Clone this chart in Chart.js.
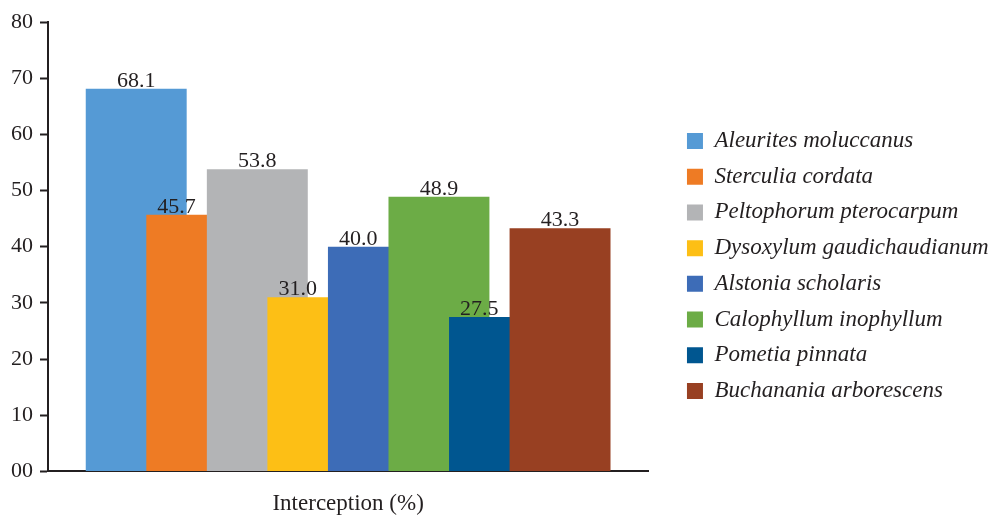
<!DOCTYPE html>
<html>
<head>
<meta charset="utf-8">
<title>Interception (%)</title>
<script src="https://cdn.jsdelivr.net/npm/chart.js@4.4.1/dist/chart.umd.min.js"></script>
<style>
  html, body { margin: 0; padding: 0; background: #fff; }
  #wrap { width: 992px; height: 516px; position: relative; }
</style>
</head>
<body>
<div id="wrap"><canvas id="interceptionChart"></canvas></div>
<script>
// species shown in the legend, left to right in the plot
var species = [
  'Aleurites moluccanus',
  'Sterculia cordata',
  'Peltophorum pterocarpum',
  'Dysoxylum gaudichaudianum',
  'Alstonia scholaris',
  'Calophyllum inophyllum',
  'Pometia pinnata',
  'Buchanania arborescens'
];
var interception = [68.1, 45.7, 53.8, 31.0, 40.0, 48.9, 27.5, 43.3];
var barColors = ['#559AD5', '#EE7B24', '#B3B4B6', '#FDBF15', '#3D6CB7', '#6CAC46', '#005690', '#984022'];
var yTickLabels = ['00', '10', '20', '30', '40', '50', '60', '70', '80'];
var xTitle = 'Interception (%)';

var ink = '#231F20';
var serif = "'Liberation Serif', 'Times New Roman', serif";

// value written above each bar; a bar partly hidden by a taller neighbour gets
// its label over the part that is still visible
var valueLabels = {
  id: 'valueLabels',
  afterDatasetsDraw: function(chart) {
    var ctx = chart.ctx;
    ctx.save();
    ctx.font = '22px ' + serif;
    ctx.fillStyle = ink;
    ctx.textAlign = 'center';
    ctx.textBaseline = 'alphabetic';
    for (var i = 0; i < interception.length; i++) {
      var bar = chart.getDatasetMeta(i).data[0];
      var x = bar.x;
      if (i < interception.length - 1 && interception[i + 1] > interception[i]) {
        var next = chart.getDatasetMeta(i + 1).data[0];
        x = bar.x - bar.width / 2 + (next.x - bar.x) / 2;
      }
      ctx.fillText(interception[i].toFixed(1), x, bar.y - 2);
    }
    ctx.restore();
  }
};

// empty scale used only as spacing (right of the plot, or above it)
function gapAxis(position, size) {
  return {
    position: position,
    display: true,
    grid: { display: false, drawTicks: false },
    border: { display: false },
    ticks: { display: false },
    afterFit: function(scale) {
      if (position === 'top') scale.height = size; else scale.width = size;
    }
  };
}

var datasets = species.map(function(name, i) {
  return {
    label: name,
    data: [{ x: i, y: interception[i] }],
    backgroundColor: barColors[i],
    borderWidth: 0,
    grouped: false,
    categoryPercentage: 1,
    barPercentage: 1.667,
    order: species.length - i
  };
});

new Chart(document.getElementById('interceptionChart'), {
  type: 'bar',
  data: { datasets: datasets },
  plugins: [valueLabels],
  options: {
    responsive: true,
    maintainAspectRatio: false,
    animation: false,
    layout: { padding: { left: 4, right: -6.5, top: 13, bottom: -3 } },
    plugins: {
      tooltip: { enabled: false },
      legend: {
        position: 'right',
        maxWidth: 600,
        labels: {
          boxWidth: 16,
          boxHeight: 16,
          padding: 12.7,
          color: ink,
          font: { family: serif, size: 23, style: 'italic' },
          sort: function(a, b) { return a.datasetIndex - b.datasetIndex; }
        }
      }
    },
    scales: {
      x: {
        type: 'linear',
        offset: false,
        min: -1.457,
        max: 8.457,
        grid: { display: false, drawTicks: false },
        border: { display: true, color: ink, width: 2 },
        ticks: { display: false },
        title: {
          display: true,
          text: xTitle,
          color: ink,
          font: { family: serif, size: 23 },
          padding: { top: 19, bottom: 1 }
        }
      },
      y: {
        min: 0,
        max: 80,
        ticks: {
          stepSize: 10,
          padding: 7,
          color: ink,
          font: { family: serif, size: 22 },
          callback: function(value, index) { return yTickLabels[index]; }
        },
        grid: {
          drawOnChartArea: false,
          drawTicks: true,
          tickLength: 8,
          tickWidth: 2,
          tickColor: ink
        },
        border: { display: true, color: ink, width: 2 }
      },
      gap: gapAxis('right', 26),
      topGap: gapAxis('top', 9)
    }
  }
});
</script>
</body>
</html>
